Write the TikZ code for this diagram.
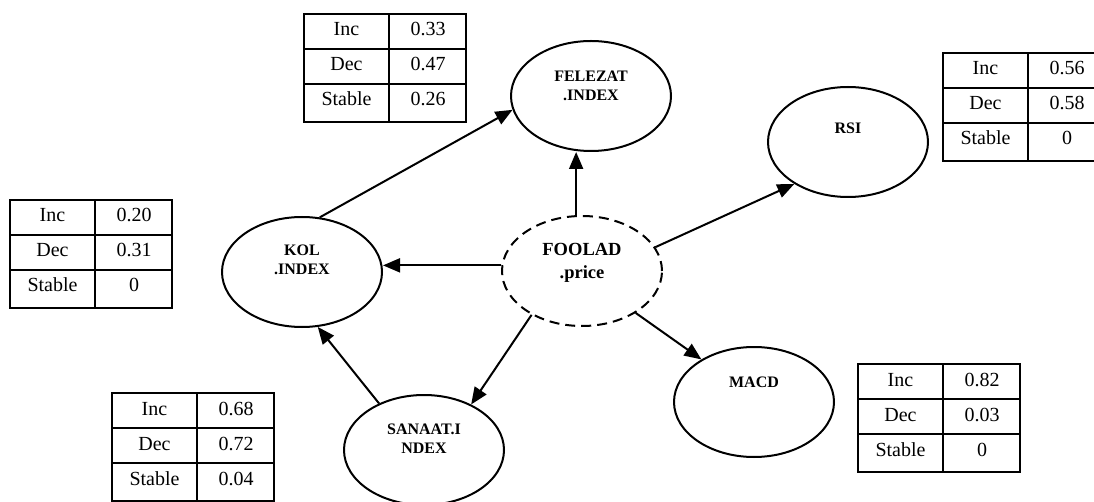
\documentclass[tikz,border=0pt]{standalone}
\usepackage{fontspec}
\setmainfont{Liberation Serif}
\usetikzlibrary{arrows.meta,shapes.geometric}
\tikzset{
  var/.style={draw,ellipse,line width=2pt,minimum width=160pt,minimum height=110pt,inner sep=0pt},
  obs/.style={var,dash pattern=on 10pt off 6pt},
  varlab/.style={font=\fontsize{16}{19}\selectfont\bfseries,align=center,inner sep=0pt},
  link/.style={line width=2pt,-{Triangle[length=17pt,width=14pt]}},
  tabline/.style={line width=2pt},
  cell/.style={font=\fontsize{20}{22}\selectfont,anchor=base,inner sep=0pt}
}
\begin{document}
\begin{tikzpicture}[x=1pt,y=-1pt]
\useasboundingbox (0,0) rectangle (1094,502);
% variables
\node[var,label={[varlab,yshift=10pt]center:{FELEZAT\\.INDEX}}] (felezat) at (591,96) {};
\node[var,label={[varlab,yshift=14pt]center:RSI}] (rsi) at (848,142) {};
\node[var,label={[varlab,yshift=12pt]center:{KOL\\.INDEX}}] (kol) at (302,272) {};
\node[obs,label={[varlab,font=\fontsize{18.5}{23}\selectfont\bfseries,yshift=8pt]center:{FOOLAD\\.price}}] (foolad) at (582,271) {};
\node[var,label={[varlab,yshift=20pt]center:MACD}] (macd) at (754,402) {};
\node[var,label={[varlab,yshift=11pt]center:{SANAAT.I\\NDEX}}] (sanaat) at (424,450) {};
% links
\draw[link] (kol.72) -- (felezat.190);
\draw[link] (foolad.96) -- (foolad.96 |- felezat.south);
\draw[link] (foolad.18) -- (rsi.218);
\draw[link] (foolad.176) -- (foolad.176 -| kol.east);
\draw[link] (foolad.322) -- (macd.141);
\draw[link] (foolad.221) -- (sanaat.44);
\draw[link] (sanaat.134) -- (kol.286);
% probability tables
\foreach \tname/\tx/\ty/\vals in {tfel/304/14/{0.33,0.47,0.26},tkol/10/200/{0.20,0.31,0},tsan/112/393/{0.68,0.72,0.04},tmacd/858/364/{0.82,0.03,0},trsi/943/53/{0.56,0.58,0}}{
  \draw[tabline] (\tx,\ty) rectangle ++(162,108);
  \draw[tabline] (\tx+85,\ty) -- ++(0,108);
  \draw[tabline] (\tx,\ty+35) -- ++(162,0) (\tx,\ty+70) -- ++(162,0);
  \foreach \lab [count=\r from 0] in {Inc,Dec,Stable}
    \node[cell] (\tname-lab-\r) at (\tx+42.5,\ty+22+35*\r) {\lab};
  \foreach \val [count=\r from 0] in \vals
    \node[cell] (\tname-val-\r) at (\tx+124,\ty+22+35*\r) {\val};
}
\end{tikzpicture}
\end{document}
